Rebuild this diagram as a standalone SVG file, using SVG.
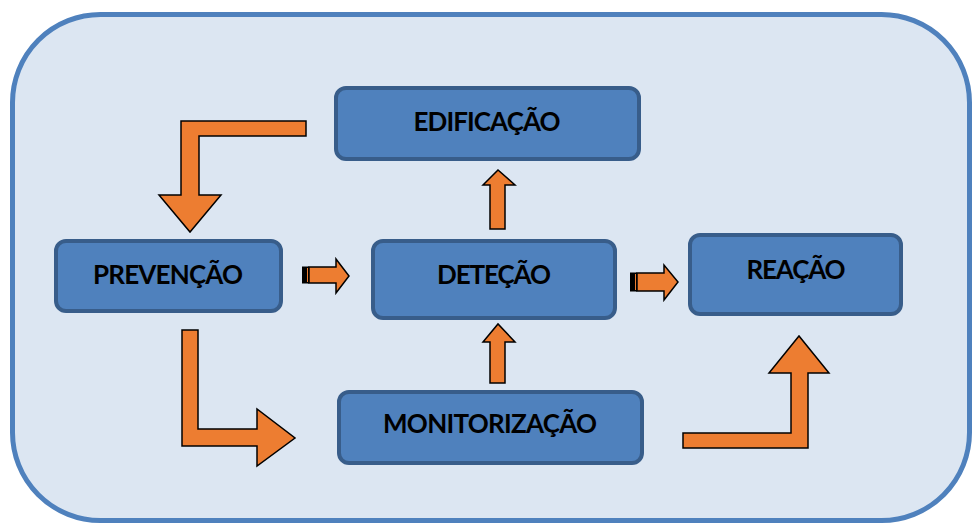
<svg xmlns="http://www.w3.org/2000/svg" width="973" height="524" viewBox="0 0 973 524">
<style>
.bg{fill:#DCE6F2;stroke:#4F81BD;stroke-width:5}
.box{fill:#4F81BD;stroke:#385D8A;stroke-width:4}
.lbl{font-family:Lato,"Liberation Sans",Arial,sans-serif;font-weight:bold;font-size:26px;fill:#000;text-anchor:middle}
.arr{fill:#ED7D31;stroke:#000;stroke-width:1.5;stroke-linejoin:miter}
.stripe{fill:#000;stroke:#000;stroke-width:1}
</style>
<rect class="bg" x="12.5" y="14.5" width="957" height="506" rx="88" ry="88"/>
<g id="edificacao">
<rect class="box" x="336" y="88" width="303" height="71" rx="10"/>
<text class="lbl" x="487" y="131" textLength="147">EDIFICAÇÃO</text>
</g>
<g id="prevencao">
<rect class="box" x="56" y="241" width="225" height="70" rx="10"/>
<text class="lbl" x="168" y="284" textLength="150">PREVENÇÃO</text>
</g>
<g id="detecao">
<rect class="box" x="373" y="241" width="242" height="77" rx="10"/>
<text class="lbl" x="494" y="284" textLength="114">DETEÇÃO</text>
</g>
<g id="reacao">
<rect class="box" x="690" y="235" width="211" height="79" rx="10"/>
<text class="lbl" x="796" y="279" textLength="99">REAÇÃO</text>
</g>
<g id="monitorizacao">
<rect class="box" x="339" y="392" width="303" height="71" rx="10"/>
<text class="lbl" x="490" y="433" textLength="214">MONITORIZAÇÃO</text>
</g>
<g id="connectors">
<path class="arr" d="M306,121 L181,121 L181,195 L159,195 L190,232 L221,195 L199,195 L199,136 L306,136 Z"/>
<path class="arr" d="M182,330 L198,330 L198,429 L257,429 L257,409 L295,438 L257,466 L257,446 L182,446 Z"/>
<path class="arr" d="M683,433 L791,433 L791,373 L769,373 L799,336 L829,373 L808,373 L808,448 L683,448 Z"/>
<path class="arr" d="M490,229 L490,185 L483,185 L498,170 L515,185 L505,185 L505,229 Z"/>
<path class="arr" d="M490,383 L490,342 L483,342 L498,324 L515,342 L505,342 L505,383 Z"/>
<rect class="stripe" x="302.5" y="267" width="3" height="16"/>
<rect class="arr" x="306.5" y="267" width="2" height="16" style="stroke-width:1"/>
<path class="arr" d="M309,267 L336,267 L336,259 L349,276 L336,293 L336,283 L309,283 Z"/>
<rect class="stripe" x="630.5" y="273" width="3" height="18"/>
<rect class="arr" x="634.5" y="273" width="2" height="18" style="stroke-width:1"/>
<path class="arr" d="M637,273 L664,273 L664,265 L678,282 L664,300 L664,291 L637,291 Z"/>
</g>
</svg>
